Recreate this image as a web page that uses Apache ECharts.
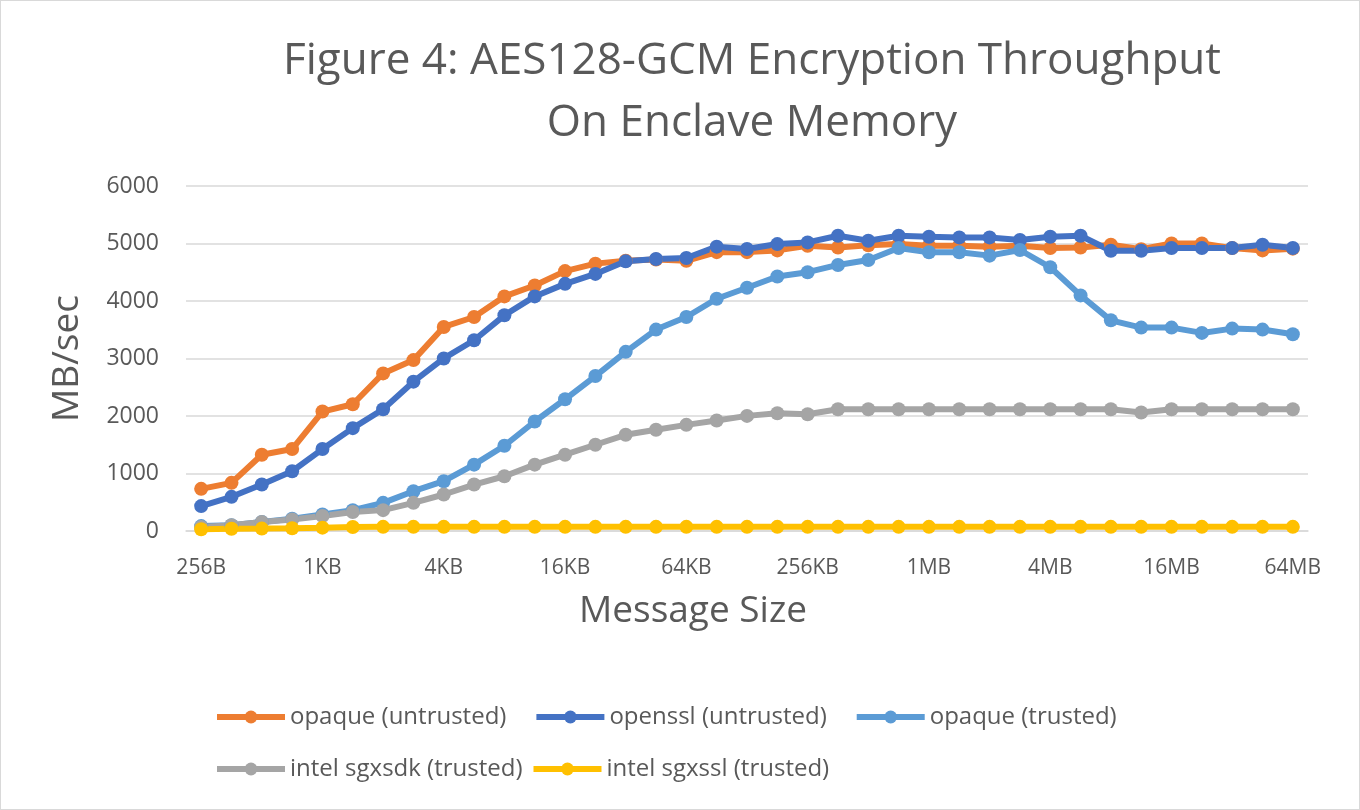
<!DOCTYPE html>
<html>
<head>
<meta charset="utf-8">
<script src="https://cdn.jsdelivr.net/npm/echarts@6/dist/echarts.min.js"></script>
<style>
html,body{margin:0;padding:0;background:#fff;}
#main{width:1360px;height:810px;box-sizing:border-box;border:1px solid #d9d9d9;}
</style>
</head>
<body>
<div id="main"></div>
<script>
const categories = ["256B","362B","512B","724B","1KB","1.4KB","2KB","2.8KB","4KB","5.7KB","8KB","11KB","16KB","23KB","32KB","45KB","64KB","91KB","128KB","181KB","256KB","362KB","512KB","724KB","1MB","1.4MB","2MB","2.8MB","4MB","5.7MB","8MB","11MB","16MB","23MB","32MB","45MB","64MB"];
const opaqueUntrusted = [733,837,1327,1425,2077,2204,2741,2972,3549,3722,4080,4270,4520,4650,4700,4720,4700,4850,4850,4880,4960,4930,4970,4990,4960,4960,4945,4960,4920,4930,4980,4900,5000,5000,4920,4880,4910];
const opensslUntrusted = [433,594,808,1039,1425,1789,2118,2597,3001,3318,3751,4080,4298,4471,4690,4731,4748,4945,4904,4990,5019,5135,5048,5135,5118,5106,5106,5060,5118,5135,4875,4875,4922,4922,4922,4979,4922];
const opaqueTrusted = [85,100,156,213,288,363,490,692,866,1154,1483,1904,2291,2695,3116,3503,3722,4039,4230,4426,4501,4627,4714,4922,4847,4847,4789,4887,4587,4097,3664,3537,3537,3445,3520,3503,3422];
const sgxsdkTrusted = [70,100,156,200,260,330,363,490,635,808,952,1154,1327,1500,1673,1760,1846,1921,2002,2048,2030,2118,2118,2118,2118,2118,2118,2118,2118,2118,2118,2060,2118,2118,2118,2118,2118];
const sgxsslTrusted = [30,38,42,48,58,70,72,72,72,72,72,72,72,72,72,72,72,72,72,72,72,72,72,72,72,72,72,72,72,72,72,72,72,72,72,72,72];
const yTicks = [0,1000,2000,3000,4000,5000,6000];

const seriesNames = ["opaque (untrusted)","openssl (untrusted)","opaque (trusted)","intel sgxsdk (trusted)","intel sgxssl (trusted)"];
const seriesData = [opaqueUntrusted, opensslUntrusted, opaqueTrusted, sgxsdkTrusted, sgxsslTrusted];
const colors = ["#ED7D31","#4472C4","#5B9BD5","#A5A5A5","#FFC000"];

const FONT = "'Open Sans', 'Noto Sans', sans-serif";
const TXT = "#595959";

const legendCommon = {
  itemWidth: 68, itemHeight: 16,
  lineStyle: { width: 6 },
  textStyle: { fontFamily: FONT, fontSize: 24, color: TXT }
};

const chart = echarts.init(document.getElementById('main'));
chart.setOption({
  animation: false,
  color: colors,
  title: {
    text: "Figure 4: AES128-GCM Encryption Throughput\nOn Enclave Memory",
    left: 746,
    top: 24,
    textAlign: 'center',
    textStyle: { fontFamily: FONT, fontSize: 44, fontWeight: 'normal', color: TXT, lineHeight: 62 }
  },
  legend: [
    Object.assign({ data: seriesNames.slice(0,3), left: 208, top: 699, itemGap: 27 }, legendCommon),
    Object.assign({ data: seriesNames.slice(3), left: 208, top: 751, itemGap: 8 }, legendCommon)
  ],
  grid: { left: 185, right: 51, top: 185, bottom: 278, containLabel: false },
  xAxis: {
    type: 'category',
    data: categories,
    boundaryGap: true,
    name: 'Message Size',
    nameLocation: 'middle',
    nameGap: 62,
    nameTextStyle: { fontFamily: FONT, fontSize: 37, color: TXT, padding: [0, 108, 0, 0] },
    axisLine: { lineStyle: { color: '#d9d9d9', width: 1.5 } },
    axisTick: { show: false },
    axisLabel: { interval: 3, margin: 27, fontFamily: FONT, fontSize: 21, color: TXT }
  },
  yAxis: {
    type: 'value',
    min: yTicks[0], max: yTicks[yTicks.length-1], interval: 1000,
    name: 'MB/sec',
    nameLocation: 'middle',
    nameGap: 100,
    nameTextStyle: { fontFamily: FONT, fontSize: 37, color: TXT },
    axisLine: { show: false },
    axisTick: { show: false },
    splitLine: { lineStyle: { color: '#d9d9d9', width: 1.5 } },
    axisLabel: { margin: 27, fontFamily: FONT, fontSize: 23, color: TXT, formatter: v => String(v) }
  },
  series: seriesNames.map((n, i) => ({
    name: n,
    type: 'line',
    data: seriesData[i],
    symbol: 'circle',
    symbolSize: 14,
    lineStyle: { width: 6, color: colors[i] },
    itemStyle: { color: colors[i] },
    emphasis: { disabled: true }
  }))
});
</script>
</body>
</html>
